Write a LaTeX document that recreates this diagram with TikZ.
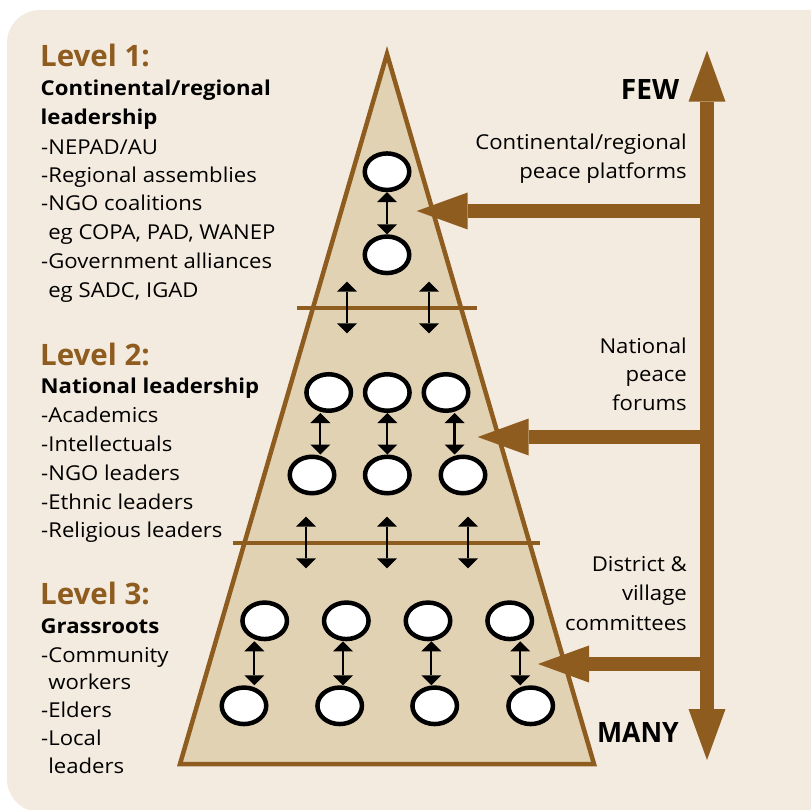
\documentclass[tikz,border=0pt]{standalone}
\usepackage{fontspec}
\setmainfont{Open Sans}
\newfontfamily\widefont[FakeStretch=1.08]{Open Sans}
\usetikzlibrary{arrows.meta,calc,shapes.geometric}
\definecolor{brn}{RGB}{143,92,31}
\definecolor{tri}{RGB}{226,210,180}
\definecolor{bg}{RGB}{243,235,223}
\begin{document}
\begin{tikzpicture}[x=1pt,y=-1pt,
  oval/.style={ellipse, draw=black, line width=4.5pt, fill=white, minimum width=44.5pt, minimum height=36.5pt, inner sep=0pt},
  dbl/.style={line width=2.2pt, {Triangle[width=20pt,length=10pt,line width=0pt]}-{Triangle[width=20pt,length=10pt,line width=0pt]}},
  bigtip/.style={brn, line width=13.5pt, -{Triangle[width=37pt,length=51pt,line width=0pt]}},
  bigdbl/.style={brn, line width=13.5pt, {Triangle[width=37pt,length=51pt,line width=0pt]}-{Triangle[width=37pt,length=51pt,line width=0pt]}},
  divider/.style={brn, line width=4.5pt},
  lvl/.style={anchor=base west, text=brn, inner sep=0pt, font=\fontsize{29.5}{29.5}\selectfont\bfseries},
  sub/.style={anchor=base west, inner sep=0pt, font=\widefont\fontsize{20.5}{24}\selectfont\bfseries},
  body/.style={anchor=base west, inner sep=0pt, font=\widefont\fontsize{20.5}{24}\selectfont},
  rtxt/.style={anchor=base east, inner sep=0pt, font=\widefont\fontsize{20.5}{24}\selectfont},
  endtxt/.style={anchor=base east, inner sep=0pt, font=\fontsize{28}{28}\selectfont\bfseries}
]
\useasboundingbox (0,0) rectangle (811,810);
\clip (0,0) rectangle (811,810);
\fill[white] (0,0) rectangle (811,810);
\fill[bg, rounded corners=33pt] (7,10) rectangle (850,812);

% pyramid
\draw[brn, line width=4.5pt, fill=tri, line join=miter] (387,54) -- (180,764) -- (594,764) -- cycle;
\draw[divider] (297,308) -- (477,308);
\draw[divider] (233,543) -- (540,543);

% level 1 ovals
\node[oval] (a1) at (387,171.7) {};
\node[oval] (a2) at (387,254.8) {};
\draw[dbl] (a1) -- (a2);

% level 2 ovals
\node[oval] (b1) at (328.7,392.5) {};
\node[oval] (b2) at (387.3,392.5) {};
\node[oval] (b3) at (446,392.5) {};
\node[oval] (b4) at (312,475) {};
\node[oval] (b5) at (387.3,475) {};
\node[oval] (b6) at (463,475) {};
\coordinate (mb1) at ($(b1)!0.5!(b4)$);
\coordinate (mb2) at ($(b2)!0.5!(b5)$);
\coordinate (mb3) at ($(b3)!0.5!(b6)$);
\draw[dbl] (b1.south -| mb1) -- (b4.north -| mb1);
\draw[dbl] (b2.south -| mb2) -- (b5.north -| mb2);
\draw[dbl] (b3.south -| mb3) -- (b6.north -| mb3);

% level 3 ovals
\node[oval] (c1) at (264.7,620.8) {};
\node[oval] (c2) at (346.3,620.8) {};
\node[oval] (c3) at (428,620.8) {};
\node[oval] (c4) at (509.7,620.8) {};
\node[oval] (c5) at (244,705.8) {};
\node[oval] (c6) at (339.7,705.8) {};
\node[oval] (c7) at (434.7,705.8) {};
\node[oval] (c8) at (530.7,705.8) {};
\coordinate (mc1) at ($(c1)!0.5!(c5)$);
\coordinate (mc2) at ($(c2)!0.5!(c6)$);
\coordinate (mc3) at ($(c3)!0.5!(c7)$);
\coordinate (mc4) at ($(c4)!0.5!(c8)$);
\draw[dbl] (c1.south -| mc1) -- (c5.north -| mc1);
\draw[dbl] (c2.south -| mc2) -- (c6.north -| mc2);
\draw[dbl] (c3.south -| mc3) -- (c7.north -| mc3);
\draw[dbl] (c4.south -| mc4) -- (c8.north -| mc4);

% arrows crossing level boundaries
\coordinate (x1a) at (347,281.7); \coordinate (x1b) at (347,333.3);
\coordinate (x2a) at (429,281.7); \coordinate (x2b) at (429,333.3);
\draw[dbl] (x1a) -- (x1b);
\draw[dbl] (x2a) -- (x2b);
\coordinate (y1a) at (306,516.7); \coordinate (y1b) at (306,568.3);
\coordinate (y2a) at (387,516.7); \coordinate (y2b) at (387,568.3);
\coordinate (y3a) at (468,516.7); \coordinate (y3b) at (468,568.3);
\draw[dbl] (y1a) -- (y1b);
\draw[dbl] (y2a) -- (y2b);
\draw[dbl] (y3a) -- (y3b);

% big scale arrow
\coordinate (few) at (707,50.7);
\coordinate (many) at (707,760);
\draw[bigdbl] (many) -- (few);
\coordinate (h1) at (707,211);  \coordinate (t1) at (416.7,211);
\coordinate (h2) at (707,437);  \coordinate (t2) at (477.7,437);
\coordinate (h3) at (707,664);  \coordinate (t3) at (538,664);
\draw[bigtip] (h1) -- (t1);
\draw[bigtip] (h2) -- (t2);
\draw[bigtip] (h3) -- (t3);

% right labels
\node[endtxt] (fewl) at (679.3,99.3) {FEW};
\node[endtxt, xscale=0.95] (manyl) at (679,742.7) {MANY};
\node[rtxt] (r1) at (687,150) {Continental/regional};
\node[rtxt] (r2) at (687,179) {peace platforms};
\node[rtxt] (r3) at (687,353.3) {National};
\node[rtxt] (r4) at (687,381.7) {peace};
\node[rtxt] (r5) at (687,410) {forums};
\node[rtxt] (r6) at (687,571.7) {District \&};
\node[rtxt] (r7) at (687,600.7) {village};
\node[rtxt] (r8) at (687,630) {committees};

% level 1 text
\node[lvl] (l1) at (40,66.7) {Level 1:};
\node[sub] (l1s1) at (40.5,96) {Continental/regional};
\node[sub] (l1s2) at (40.5,125) {leadership};
\node[body] (l1b1) at (41,154.3) {-NEPAD/AU};
\node[body] (l1b2) at (41,182.7) {-Regional assemblies};
\node[body] (l1b3) at (41,211) {-NGO coalitions};
\node[body] (l1b4) at (41,240) {\phantom{-}eg COPA, PAD, WANEP};
\node[body] (l1b5) at (41,268.7) {-Government alliances};
\node[body] (l1b6) at (41,297.3) {\phantom{-}eg SADC, IGAD};

% level 2 text
\node[lvl] (l2) at (40,365) {Level 2:};
\node[sub] (l2s1) at (40.5,393.3) {National leadership};
\node[body] (l2b1) at (41,422.3) {-Academics};
\node[body] (l2b2) at (41,451) {-Intellectuals};
\node[body] (l2b3) at (41,480) {-NGO leaders};
\node[body] (l2b4) at (41,509) {-Ethnic leaders};
\node[body] (l2b5) at (41,537.3) {-Religious leaders};

% level 3 text
\node[lvl] (l3) at (40,604.3) {Level 3:};
\node[sub] (l3s1) at (40.5,633.3) {Grassroots};
\node[body] (l3b1) at (41,662.3) {-Community};
\node[body] (l3b2) at (41,689.3) {\phantom{-}workers};
\node[body] (l3b3) at (41,717.7) {-Elders};
\node[body] (l3b4) at (41,745.7) {-Local};
\node[body] (l3b5) at (41,773.3) {\phantom{-}leaders};
\end{tikzpicture}
\end{document}
